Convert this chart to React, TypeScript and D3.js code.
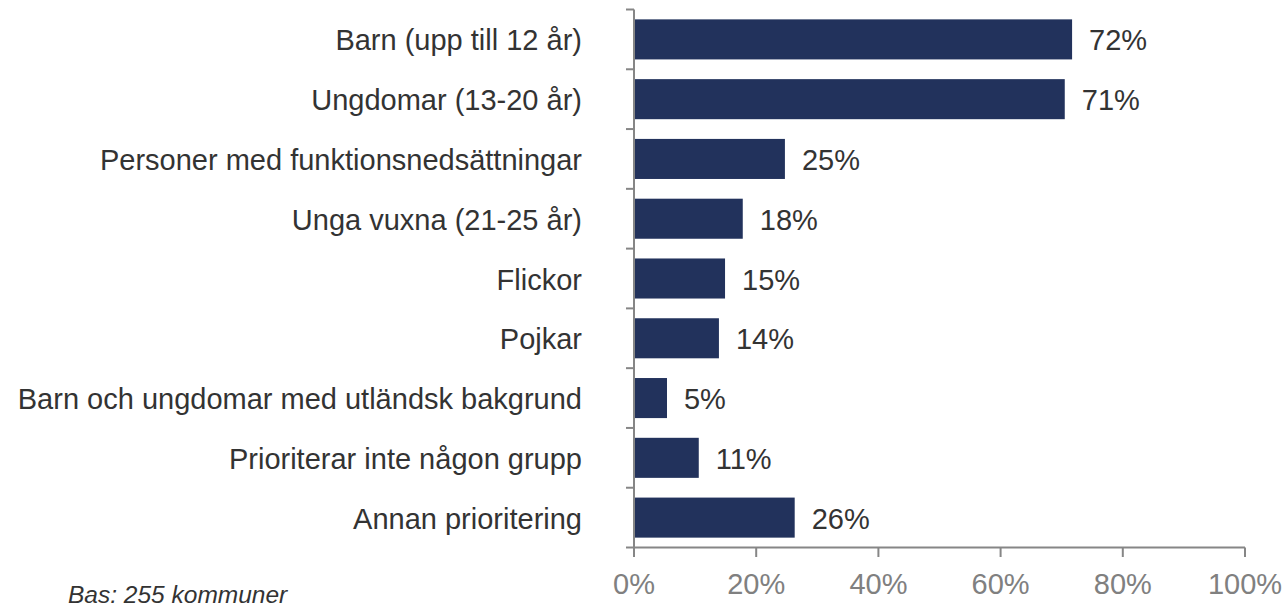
import React from "react";
import * as d3 from "d3";

const categories = [
  "Barn (upp till 12 år)",
  "Ungdomar (13-20 år)",
  "Personer med funktionsnedsättningar",
  "Unga vuxna (21-25 år)",
  "Flickor",
  "Pojkar",
  "Barn och ungdomar med utländsk bakgrund",
  "Prioriterar inte någon grupp",
  "Annan prioritering",
];
const values = [71.7, 70.5, 24.7, 17.8, 14.9, 13.9, 5.4, 10.6, 26.3];
const valueLabels = ["72%", "71%", "25%", "18%", "15%", "14%", "5%", "11%", "26%"];
const xTicks = [0, 20, 40, 60, 80, 100];
const footnote = "Bas: 255 kommuner";

const W = 1286;
const H = 607;
const FONT = "Liberation Sans, Arial, sans-serif";

export default function App() {
  const x = d3.scaleLinear().domain([0, 100]).range([634, 1245]);
  const y = d3
    .scaleBand<string>()
    .domain(categories)
    .range([9.5, 547.5])
    .paddingInner(0.33)
    .paddingOuter(0.165);
  const step = y.step();
  const boundaries = d3.range(categories.length + 1).map((i) => 9.5 + i * step);
  const axisColor = "#868686";

  return (
    <svg
      width={W}
      height={H}
      style={{ position: "absolute", left: 0, top: 0, background: "#fff" }}
      fontFamily={FONT}
    >
      {categories.map((c, i) => (
        <g key={c}>
          <rect
            x={x(0)}
            y={y(c)!}
            width={x(values[i]) - x(0)}
            height={y.bandwidth()}
            fill="#22325C"
          />
          <text
            x={582}
            y={y(c)! + y.bandwidth() / 2 + 11}
            textAnchor="end"
            fontSize={29}
            fill="#333333"
          >
            {c}
          </text>
          <text
            x={x(values[i]) + 17}
            y={y(c)! + y.bandwidth() / 2 + 11}
            textAnchor="start"
            fontSize={29}
            fill="#333333"
          >
            {valueLabels[i]}
          </text>
        </g>
      ))}
      <line x1={x(0)} x2={x(0)} y1={boundaries[0]} y2={557} stroke={axisColor} strokeWidth={2} />
      {boundaries.map((b, i) => (
        <line key={i} x1={x(0) - 8} x2={x(0)} y1={b} y2={b} stroke={axisColor} strokeWidth={2} />
      ))}
      <line x1={x(0)} x2={x(100)} y1={547.5} y2={547.5} stroke={axisColor} strokeWidth={2} />
      {xTicks.map((t) => (
        <g key={t}>
          <line x1={x(t)} x2={x(t)} y1={547.5} y2={557} stroke={axisColor} strokeWidth={2} />
          <text x={x(t)} y={594} textAnchor="middle" fontSize={29} fill="#808080">
            {t + "%"}
          </text>
        </g>
      ))}
      <text x={68} y={603} fontSize={24.5} fontStyle="italic" fill="#333333">
        {footnote}
      </text>
    </svg>
  );
}
